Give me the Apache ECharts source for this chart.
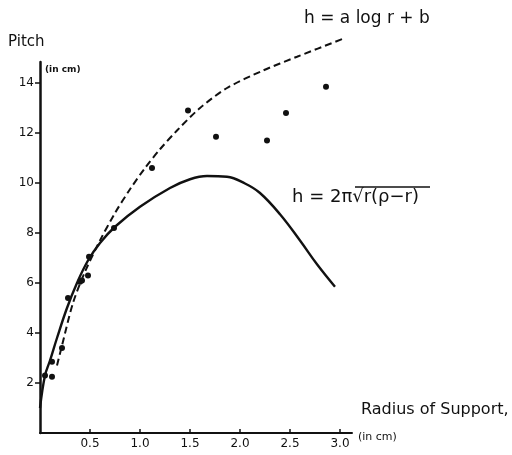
<!DOCTYPE html>
<html lang="en">
<head>
    <meta charset="UTF-8">
    <title>Pitch vs radius of support</title>
    <script src="https://cdn.jsdelivr.net/npm/echarts@6/dist/echarts.min.js"></script>
    <style>
        html, body { margin: 0; padding: 0; background: #fff; }
    </style>
</head>
<body>
<div id="main" style="width: 512px;height:455px;"></div>
<script type="text/javascript">
    // readings: radius r (cm), pitch h (cm)
    var measured = [
        [0.05, 2.3], [0.12, 2.25], [0.12, 2.85], [0.22, 3.4], [0.28, 5.4],
        [0.40, 6.05], [0.42, 6.1], [0.48, 6.3], [0.49, 7.05], [0.74, 8.2],
        [1.12, 10.6], [1.48, 12.9], [1.76, 11.85], [2.27, 11.7], [2.46, 12.8],
        [2.86, 13.85]
    ];
    // h = 2 pi sqrt(r(rho - r))
    var sqrtCurve = [
        [0, 1.0], [0.05, 2.3], [0.1, 2.9], [0.17, 3.8], [0.27, 5.0],
        [0.37, 6.0], [0.48, 6.9], [0.6, 7.6], [0.75, 8.25], [1.0, 9.05],
        [1.3, 9.8], [1.5, 10.15], [1.67, 10.28], [1.87, 10.25], [2.05, 9.98],
        [2.2, 9.6], [2.4, 8.75], [2.6, 7.7], [2.77, 6.75], [2.95, 5.85]
    ];
    // h = a log r + b
    var logCurve = [
        [0.17, 2.7], [0.22, 3.5], [0.33, 5.2], [0.45, 6.45], [0.6, 7.7],
        [0.75, 8.8], [0.9, 9.75], [1.05, 10.6], [1.2, 11.35], [1.37, 12.1],
        [1.6, 13.0], [1.87, 13.8], [2.23, 14.5], [2.57, 15.05], [3.05, 15.8]
    ];
    var xTicks = [0.5, 1.0, 1.5, 2.0, 2.5, 3.0];
    var yTicks = [2, 4, 6, 8, 10, 12, 14];

    var ink = '#111';
    var hand = '"DejaVu Sans", sans-serif';

    var myChart = echarts.init(document.getElementById('main'));
    myChart.setOption({
        backgroundColor: '#fff',
        animation: false,
        grid: { left: 40, right: 160, top: 62, bottom: 22 },
        xAxis: {
            type: 'value', min: 0, max: 3.12,
            splitLine: { show: false },
            axisLine: { lineStyle: { color: ink, width: 2 } },
            axisTick: { customValues: xTicks, length: 4, inside: true, lineStyle: { color: ink, width: 1.5 } },
            axisLabel: {
                customValues: xTicks, color: ink, fontFamily: hand, fontSize: 12, margin: 5,
                formatter: function (v) { return v.toFixed(1); }
            }
        },
        yAxis: {
            type: 'value', min: 0, max: 14.84,
            splitLine: { show: false },
            axisLine: { lineStyle: { color: ink, width: 2.5 } },
            axisTick: { customValues: yTicks, length: 5, lineStyle: { color: ink, width: 1.5 } },
            axisLabel: { customValues: yTicks, color: ink, fontFamily: hand, fontSize: 12, margin: 6 }
        },
        series: [
            {
                name: 'h = a log r + b', type: 'line', data: logCurve,
                smooth: 0.3, showSymbol: false, clip: false,
                lineStyle: { color: ink, width: 2, type: [7, 4] }
            },
            {
                name: 'h = 2π√(r(ρ−r))', type: 'line', data: sqrtCurve,
                smooth: 0.4, showSymbol: false, clip: false,
                lineStyle: { color: ink, width: 2.4 }
            },
            {
                name: 'measured', type: 'scatter', data: measured,
                symbolSize: 6, itemStyle: { color: ink, opacity: 1 }
            }
        ],
        graphic: [
            { type: 'text', left: 8, top: 35, style: { text: 'Pitch', fill: ink, font: '15px ' + hand } },
            { type: 'text', left: 45, top: 65, style: { text: '(in cm)', fill: ink, font: 'bold 9px ' + hand } },
            { type: 'text', left: 361, top: 402, style: { text: 'Radius of Support,', fill: ink, font: '16px ' + hand } },
            { type: 'text', left: 358, top: 432, style: { text: '(in cm)', fill: ink, font: '11px ' + hand } },
            { type: 'text', left: 304, top: 10, style: { text: 'h = a log r + b', fill: ink, font: '17px ' + hand } },
            { type: 'text', left: 292, top: 188, style: { text: 'h = 2π√r(ρ−r)', fill: ink, font: '18px ' + hand } },
            { type: 'line', shape: { x1: 355, y1: 187, x2: 430, y2: 187 }, style: { stroke: ink, lineWidth: 1.5 } }
        ]
    });
</script>
</body>
</html>
